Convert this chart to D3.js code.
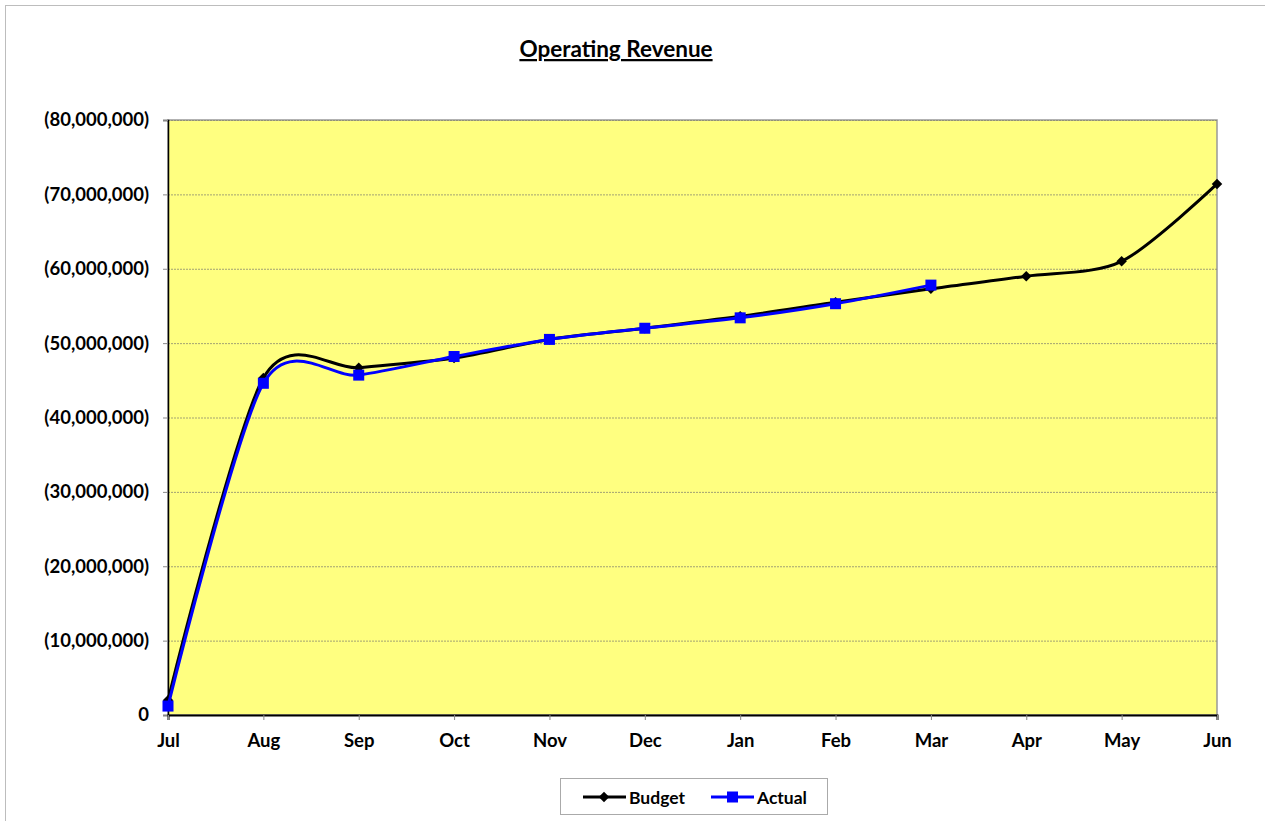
<!DOCTYPE html>
<html>
<head>
<meta charset="utf-8">
<script src="https://cdnjs.cloudflare.com/ajax/libs/d3/7.8.5/d3.min.js"></script>
<style>
  body { margin: 0; background: #fff; }
  text { font-family: Lato, "Open Sans", sans-serif; font-weight: bold; fill: #000; }
</style>
</head>
<body>
<div id="chart"></div>
<script>
// data
var months = ["Jul", "Aug", "Sep", "Oct", "Nov", "Dec", "Jan", "Feb", "Mar", "Apr", "May", "Jun"];
var budget = [2.0, 45.3, 46.7, 48.0, 50.5, 52.0, 53.6, 55.5, 57.3, 59.0, 61.0, 71.4].map(v => v * 1e6);
var actual = [1.2, 44.6, 45.7, 48.2, 50.5, 52.0, 53.4, 55.3, 57.8].map(v => v * 1e6);
var yTicks = [0, 10, 20, 30, 40, 50, 60, 70, 80].map(v => v * 1e6);

var W = 1265, H = 821;
var margin = {top: 120, right: 48, bottom: 106, left: 168},
    width = W - margin.left - margin.right,
    height = H - margin.top - margin.bottom;

var svg = d3.select("#chart")
  .append("svg")
    .attr("width", W)
    .attr("height", H);

// outer chart border
svg.append("rect")
  .attr("x", 5.5).attr("y", 5.5)
  .attr("width", W).attr("height", H)
  .style("fill", "#fff")
  .style("stroke", "#bdbdbd");

// title
svg.append("text")
  .attr("x", 616).attr("y", 57)
  .attr("text-anchor", "middle")
  .style("font-size", "22.5px")
  .style("text-decoration", "underline")
  .text("Operating Revenue");

var g = svg.append("g")
  .attr("transform", "translate(" + margin.left + "," + margin.top + ")");

var x = d3.scalePoint()
  .domain(months)
  .range([0, width]);

var y = d3.scaleLinear()
  .domain([0, 80e6])
  .range([height, 0]);

// plot background
g.append("rect")
  .attr("width", width).attr("height", height)
  .style("fill", "#ffff80")
  .style("stroke", "#999")
  .style("stroke-width", 1.5);

// gridlines
g.append("g")
  .selectAll("line")
  .data(yTicks.slice(1))
  .enter()
  .append("line")
    .attr("x1", 0).attr("x2", width)
    .attr("y1", d => y(d) + 0.5).attr("y2", d => y(d) + 0.5)
    .style("stroke", "#8a8a70")
    .style("stroke-width", 0.8)
    .style("stroke-dasharray", "2,1");

// Y axis
var fmt = d3.format(",");
var yAxis = g.append("g")
  .call(d3.axisLeft(y).tickValues(yTicks).tickSize(5).tickPadding(14)
    .tickFormat(d => d === 0 ? "0" : "(" + fmt(d) + ")"));
yAxis.select(".domain").style("stroke", "#000").style("stroke-width", 1.5);
yAxis.selectAll(".tick line").style("stroke", "#888");
yAxis.selectAll("text").style("font-size", "18.5px");

// X axis
var xAxis = g.append("g")
  .attr("transform", "translate(0," + height + ")")
  .call(d3.axisBottom(x).tickSize(5).tickPadding(14));
xAxis.select(".domain").style("stroke", "#000").style("stroke-width", 2);
xAxis.selectAll(".tick line").style("stroke", "#888");
xAxis.selectAll("text").style("font-size", "18.5px");

var line = d3.line()
  .x((d, i) => x(months[i]))
  .y(d => y(d))
  .curve(d3.curveCardinal.tension(0.15));

// budget series
g.append("path")
  .datum(budget)
  .attr("d", line)
  .style("fill", "none")
  .style("stroke", "#000")
  .style("stroke-width", 3);

g.append("g")
  .selectAll("path")
  .data(budget)
  .enter()
  .append("path")
    .attr("d", d3.symbol().type(d3.symbolDiamond2).size(70))
    .attr("transform", (d, i) => "translate(" + x(months[i]) + "," + y(d) + ")")
    .style("fill", "#000");

// actual series
g.append("path")
  .datum(actual)
  .attr("d", line)
  .style("fill", "none")
  .style("stroke", "#0000ff")
  .style("stroke-width", 3);

g.append("g")
  .selectAll("rect")
  .data(actual)
  .enter()
  .append("rect")
    .attr("x", (d, i) => x(months[i]) - 5.5)
    .attr("y", d => y(d) - 5.5)
    .attr("width", 11).attr("height", 11)
    .style("fill", "#0000ff");

// legend
var legend = svg.append("g");
legend.append("rect")
  .attr("x", 560.5).attr("y", 778.5)
  .attr("width", 267).attr("height", 36)
  .style("fill", "#fff")
  .style("stroke", "#aaa");

var items = [
  {name: "Budget", color: "#000", x0: 583, shape: "diamond"},
  {name: "Actual", color: "#0000ff", x0: 711, shape: "square"}
];
items.forEach(function (it) {
  legend.append("line")
    .attr("x1", it.x0).attr("x2", it.x0 + 43)
    .attr("y1", 797).attr("y2", 797)
    .style("stroke", it.color).style("stroke-width", 3);
  if (it.shape === "diamond") {
    legend.append("path")
      .attr("d", d3.symbol().type(d3.symbolDiamond2).size(70))
      .attr("transform", "translate(" + (it.x0 + 21) + ",797)")
      .style("fill", it.color);
  } else {
    legend.append("rect")
      .attr("x", it.x0 + 16).attr("y", 791.5)
      .attr("width", 11).attr("height", 11)
      .style("fill", it.color);
  }
  legend.append("text")
    .attr("x", it.x0 + 46).attr("y", 803.5)
    .style("font-size", "17.5px")
    .text(it.name);
});
</script>
</body>
</html>
